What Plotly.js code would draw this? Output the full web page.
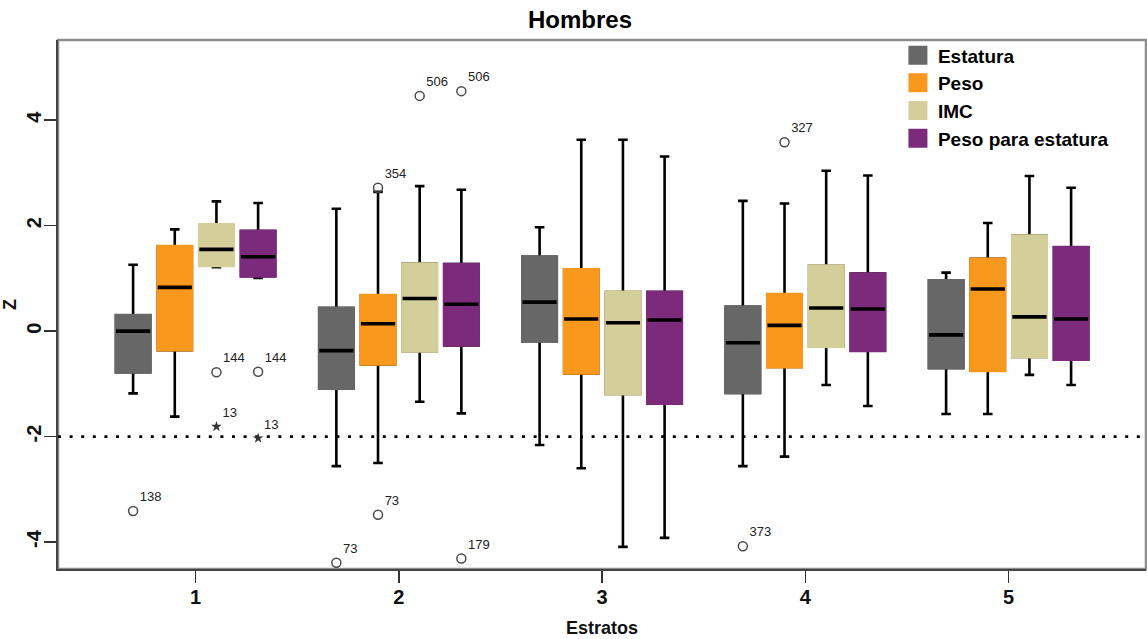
<!DOCTYPE html>
<html><head><meta charset="utf-8">
<script src="https://cdn.plot.ly/plotly-3.0.1.min.js"></script>
<style>html,body{margin:0;padding:0;background:#fff}#chart{width:1147px;height:639px}</style>
</head><body><div id="chart"></div>
<script>
// ---- data ----
const strata = [1, 2, 3, 4, 5];
const stratumLabels = ['1', '2', '3', '4', '5'];
const seriesNames = ['Estatura', 'Peso', 'IMC', 'Peso para estatura'];
const seriesColors = ['#676767', '#F8981D', '#D4CF9A', '#7C2A7B'];

const estaturaQ1  = [-0.78, -1.09, -0.19, -1.17, -0.70];
const estaturaMed = [ 0.00, -0.37,  0.55, -0.22, -0.07];
const estaturaQ3  = [ 0.30,  0.44,  1.41,  0.46,  0.96];
const estaturaLo  = [-1.18, -2.56, -2.16, -2.56, -1.57];
const estaturaHi  = [ 1.26,  2.32,  1.97,  2.47,  1.11];

const pesoQ1  = [-0.36, -0.63, -0.80, -0.68, -0.75];
const pesoMed = [ 0.83,  0.14,  0.23,  0.11,  0.80];
const pesoQ3  = [ 1.61,  0.68,  1.17,  0.70,  1.37];
const pesoLo  = [-1.62, -2.50, -2.60, -2.38, -1.57];
const pesoHi  = [ 1.93,  2.64,  3.63,  2.42,  2.05];

const imcQ1  = [ 1.24, -0.38, -1.19, -0.29, -0.49];
const imcMed = [ 1.55,  0.62,  0.16,  0.44,  0.27];
const imcQ3  = [ 2.02,  1.28,  0.74,  1.24,  1.81];
const imcLo  = [ 1.21, -1.34, -4.09, -1.02, -0.83];
const imcHi  = [ 2.46,  2.75,  3.63,  3.04,  2.94];

const ppeQ1  = [ 1.04, -0.27, -1.37, -0.37, -0.54];
const ppeMed = [ 1.41,  0.51,  0.21,  0.42,  0.23];
const ppeQ3  = [ 1.90,  1.27,  0.74,  1.09,  1.59];
const ppeLo  = [ 1.01, -1.56, -3.92, -1.42, -1.02];
const ppeHi  = [ 2.43,  2.68,  3.31,  2.95,  2.72];

// outliers: series index, stratum, z value, case label, extreme (asterisk)
const outlierSeries  = [0, 2, 2, 3, 3, 0, 1, 1, 2, 3, 3, 0, 1];
const outlierStratum = [1, 1, 1, 1, 1, 2, 2, 2, 2, 2, 2, 4, 4];
const outlierZ       = [-3.41, -0.78, -1.81, -0.77, -2.03, -4.39, 2.72, -3.48, 4.46, 4.55, -4.31, -4.08, 3.58];
const outlierLabel   = ['138', '144', '13', '144', '13', '73', '354', '73', '506', '506', '179', '373', '327'];
const outlierExtreme = [false, false, true, false, true, false, false, false, false, false, false, false, false];

const yTickVals = [-4, -2, 0, 2, 4];
const yTickText = ['-4', '-2', '0', '2', '4'];
const refLine = -2;

// ---- build ----
const FONT = 'Liberation Sans, Arial, Helvetica, sans-serif';
const BOXGAP = 0.18, BOXGROUPGAP = 0.18;
const stats = [
  [estaturaQ1, estaturaMed, estaturaQ3, estaturaLo, estaturaHi],
  [pesoQ1, pesoMed, pesoQ3, pesoLo, pesoHi],
  [imcQ1, imcMed, imcQ3, imcLo, imcHi],
  [ppeQ1, ppeMed, ppeQ3, ppeLo, ppeHi]
];
const traces = [];
stats.forEach((s, k) => {
  const [q1, med, q3, lo, hi] = s;
  const base = {type: 'box', x: strata, offsetgroup: seriesNames[k], alignmentgroup: 'g',
    showlegend: false, hoverinfo: 'skip', boxpoints: false, name: seriesNames[k]};
  // whiskers + caps
  traces.push(Object.assign({}, base, {q1: q1, median: med, q3: q3, lowerfence: lo, upperfence: hi,
    fillcolor: seriesColors[k], whiskerwidth: 0.28, line: {color: '#000', width: 2.6}}));
  // coloured box body
  traces.push(Object.assign({}, base, {q1: q1, median: med, q3: q3, lowerfence: q1, upperfence: q3,
    fillcolor: seriesColors[k], whiskerwidth: 0, line: {color: seriesColors[k], width: 3}}));
  // black median
  traces.push(Object.assign({}, base, {q1: med, median: med, q3: med, lowerfence: med, upperfence: med,
    fillcolor: 'rgba(0,0,0,0)', whiskerwidth: 0, line: {color: '#000', width: 3.6}}));
});

// outliers positioned at their series' slot inside the group
const slotOffset = k => (1 - BOXGAP) * (-0.5 + (k + 0.5) / seriesNames.length);
const ox = outlierStratum.map((g, i) => g + slotOffset(outlierSeries[i]));
function outTrace(extreme) {
  const idx = outlierZ.map((_, i) => i).filter(i => outlierExtreme[i] === extreme);
  return {
    type: 'scatter', mode: 'markers+text', showlegend: false, hoverinfo: 'skip',
    x: idx.map(i => ox[i]), y: idx.map(i => outlierZ[i]), text: idx.map(i => outlierLabel[i]),
    textposition: 'top right', textfont: {family: FONT, size: 13, color: '#222'},
    marker: extreme ? {symbol: 'star', size: 8, color: '#333', line: {width: 0}}
                    : {symbol: 'circle-open', size: 9, color: '#4a4a4a', line: {width: 1.5, color: '#4a4a4a'}},
    cliponaxis: false
  };
}
traces.push(outTrace(false));
traces.push(outTrace(true));

// legend entries
seriesNames.forEach((n, k) => {
  traces.push({type: 'scatter', mode: 'markers', x: [null], y: [null], name: n, hoverinfo: 'skip',
    marker: {symbol: 'square', size: 16, color: seriesColors[k], line: {width: 3, color: seriesColors[k]}}});
});

const layout = {
  width: 1147, height: 639,
  margin: {l: 58, r: 1, t: 40, b: 70},
  paper_bgcolor: '#fff', plot_bgcolor: '#fff',
  font: {family: FONT, color: '#000'},
  title: {text: 'Hombres', font: {family: FONT, size: 24, weight: 700, color: '#000'},
    x: 0.5057, xanchor: 'center', y: 0.969, yanchor: 'middle', xref: 'container', yref: 'container'},
  xaxis: {range: [0.323, 5.676], tickvals: strata, ticktext: stratumLabels, ticks: 'outside', ticklen: 12,
    tickwidth: 1.5, tickcolor: '#333', showline: true, linecolor: '#444', linewidth: 2,
    showgrid: false, zeroline: false, tickfont: {family: FONT, size: 20, weight: 700, color: '#111'},
    ticklabelstandoff: -3,
    title: {text: 'Estratos', font: {family: FONT, size: 18, weight: 700, color: '#111'}}},
  yaxis: {range: [-4.51, 5.52], tickvals: yTickVals, ticktext: yTickText, tickangle: -90,
    ticks: 'outside', ticklen: 12, tickwidth: 1.5, tickcolor: '#333', showline: true, linecolor: '#444',
    linewidth: 2, showgrid: false, zeroline: false, ticklabelstandoff: -5,
    tickfont: {family: FONT, size: 20, weight: 700, color: '#111'},
    title: {text: 'Z', standoff: 4, font: {family: FONT, size: 18, weight: 700, color: '#111'}}},
  boxmode: 'group', boxgap: BOXGAP, boxgroupgap: BOXGROUPGAP,
  showlegend: true,
  legend: {x: 0.772, y: 1.007, xanchor: 'left', yanchor: 'top', bgcolor: 'rgba(0,0,0,0)',
    font: {family: FONT, size: 19, weight: 700, color: '#000'}, itemsizing: 'trace', tracegroupgap: 0},
  shapes: [
    {type: 'rect', xref: 'paper', yref: 'paper', x0: 0, x1: 1, y0: 0, y1: 1, layer: 'below',
      line: {color: '#8c8c8c', width: 2.5}},
    {type: 'line', xref: 'paper', yref: 'y', x0: 0, x1: 1, y0: refLine, y1: refLine, layer: 'below',
      line: {color: '#000', width: 2.6, dash: '3px,8.6px'}}
  ]
};
Plotly.newPlot('chart', traces, layout, {displayModeBar: false, staticPlot: true});
</script></body></html>
